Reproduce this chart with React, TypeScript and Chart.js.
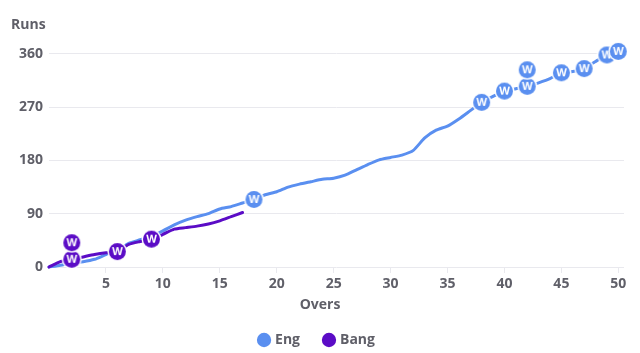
import React, { useEffect, useRef } from "react";
import { Chart, registerables } from "chart.js";

Chart.register(...registerables);

// ---- data ----
const engOvers = [0, 1, 2, 3, 4, 5, 6, 7, 8, 9, 10, 11, 12, 13, 14, 15, 16, 17, 18, 19, 20, 21, 22, 23, 24, 25, 26, 27, 28, 29, 30, 31, 32, 33, 34, 35, 36, 37, 38, 39, 40, 41, 42, 43, 44, 45, 46, 47, 48, 49, 50];
const engRuns = [0, 3, 7, 9, 13, 21, 28, 40, 46, 52, 61, 71, 79, 85, 90, 98, 102, 108, 114, 122, 127, 135, 140, 144, 148, 150, 155, 164, 173, 181, 185, 189, 197, 218, 231, 238, 250, 264, 278, 288, 297, 301, 305, 311, 318, 328, 330, 335, 347, 358, 364];
const bangOvers = [0, 1, 2, 3, 4, 5, 6, 7, 8, 9, 10, 11, 12, 13, 14, 15, 16, 17];
const bangRuns = [0, 9, 13, 17, 21, 24, 26, 38, 43, 47, 55, 64, 66.5, 69, 72.6, 78, 85, 92];
const engWicketOvers = [18, 38, 40, 42, 42, 45, 47, 49, 50];
const engWicketRuns = [114, 278, 297, 305, 333, 328, 335, 358, 364];
const bangWicketOvers = [2, 2, 6, 9];
const bangWicketRuns = [13, 41, 26, 47];
const yTickValues = [0, 90, 180, 270, 360];
const xTickValues = [5, 10, 15, 20, 25, 30, 35, 40, 45, 50];
const seriesNames = ["Eng", "Bang"];
const yTitle = "Runs";
const xTitle = "Overs";
const wicketLabel = "W";

const ENG = "#5a8ff0";
const BANG = "#5b0cc6";
const TEXT = "#5f5f68";
const GRID = "#e9e9ee";
const FONT = '"Open Sans", "DejaVu Sans", sans-serif';

function makeMarker(color: string): HTMLCanvasElement {
  const c = document.createElement("canvas");
  c.width = 21;
  c.height = 21;
  const ctx = c.getContext("2d")!;
  ctx.beginPath();
  ctx.arc(10.5, 10.5, 10, 0, Math.PI * 2);
  ctx.fillStyle = "#ffffff";
  ctx.fill();
  ctx.beginPath();
  ctx.arc(10.5, 10.5, 8.5, 0, Math.PI * 2);
  ctx.fillStyle = color;
  ctx.fill();
  ctx.fillStyle = "#ffffff";
  ctx.font = `700 11px ${FONT}`;
  ctx.textAlign = "center";
  ctx.textBaseline = "middle";
  ctx.fillText(wicketLabel, 10.5, 11);
  return c;
}

export default function App() {
  const ref = useRef<HTMLCanvasElement | null>(null);

  useEffect(() => {
    document.body.style.margin = "0";
    if (!ref.current) return;

    const oversLabel = {
      id: "oversLabel",
      afterDraw(chart: any) {
        const { ctx, chartArea } = chart;
        ctx.save();
        ctx.font = `700 14px ${FONT}`;
        ctx.fillStyle = TEXT;
        ctx.textAlign = "center";
        ctx.textBaseline = "middle";
        ctx.fillText(xTitle, chart.width / 2, chartArea.bottom + 38);
        ctx.restore();
      },
    };

    const chart = new Chart(ref.current, {
      type: "line",
      data: {
        datasets: [
          {
            label: seriesNames[0],
            data: engOvers.map((o, i) => ({ x: o, y: engRuns[i] })),
            borderColor: ENG,
            backgroundColor: ENG,
            borderWidth: 3,
            pointRadius: 0,
            pointStyle: "circle",
            tension: 0.2,
            borderCapStyle: "round",
            borderJoinStyle: "round",
            clip: false as any,
            order: 3,
          },
          {
            label: seriesNames[1],
            data: bangOvers.map((o, i) => ({ x: o, y: bangRuns[i] })),
            borderColor: BANG,
            backgroundColor: BANG,
            borderWidth: 3,
            pointRadius: 0,
            pointStyle: "circle",
            tension: 0.2,
            borderCapStyle: "round",
            borderJoinStyle: "round",
            clip: false as any,
            order: 2,
          },
          {
            label: seriesNames[0] + " wickets",
            data: engWicketOvers.map((o, i) => ({ x: o, y: engWicketRuns[i] })),
            showLine: false,
            pointStyle: makeMarker(ENG) as any,
            pointRadius: 10,
            clip: false as any,
            order: 1,
          },
          {
            label: seriesNames[1] + " wickets",
            data: bangWicketOvers.map((o, i) => ({ x: o, y: bangWicketRuns[i] })),
            showLine: false,
            pointStyle: makeMarker(BANG) as any,
            pointRadius: 10,
            clip: false as any,
            order: 0,
          },
        ],
      },
      options: {
        responsive: false,
        animation: false,
        layout: { padding: { top: 17, left: 11, right: 16, bottom: -4 } },
        scales: {
          x: {
            type: "linear",
            min: 0,
            max: 50.5,
            afterBuildTicks: (scale: any) => {
              scale.ticks = xTickValues.map((v) => ({ value: v }));
            },
            afterFit: (scale: any) => {
              scale.height = 41;
            },
            grid: {
              drawOnChartArea: false,
              drawTicks: true,
              tickLength: 6,
              color: GRID,
            },
            border: { display: false },
            ticks: {
              color: TEXT,
              font: { family: FONT, size: 14, weight: 700 as any },
              padding: 3,
              maxRotation: 0,
              autoSkip: false,
            },
          },
          y: {
            min: 0,
            max: 360,
            afterBuildTicks: (scale: any) => {
              scale.ticks = yTickValues.map((v) => ({ value: v }));
            },
            afterFit: (scale: any) => {
              scale.width = 38;
            },
            grid: { color: GRID, drawTicks: false },
            border: { display: false },
            ticks: {
              color: TEXT,
              font: { family: FONT, size: 14, weight: 700 as any },
              padding: 6,
            },
          },
        },
        plugins: {
          title: {
            display: true,
            text: yTitle,
            align: "start",
            color: TEXT,
            font: { family: FONT, size: 14, weight: 700 as any },
            padding: { top: 0, bottom: 20 },
          },
          legend: {
            position: "bottom",
            labels: {
              usePointStyle: true,
              boxWidth: 8,
              boxHeight: 8,
              padding: 25,
              color: TEXT,
              font: { family: FONT, size: 14, weight: 700 as any },
              filter: (item: any) => item.datasetIndex < 2,
              sort: (a: any, b: any) => a.datasetIndex - b.datasetIndex,
            },
          },
          tooltip: { enabled: false },
        },
      },
      plugins: [oversLabel],
    });

    return () => chart.destroy();
  }, []);

  return (
    <div style={{ width: 640, height: 353 }}>
      <canvas ref={ref} width={640} height={353} />
    </div>
  );
}
